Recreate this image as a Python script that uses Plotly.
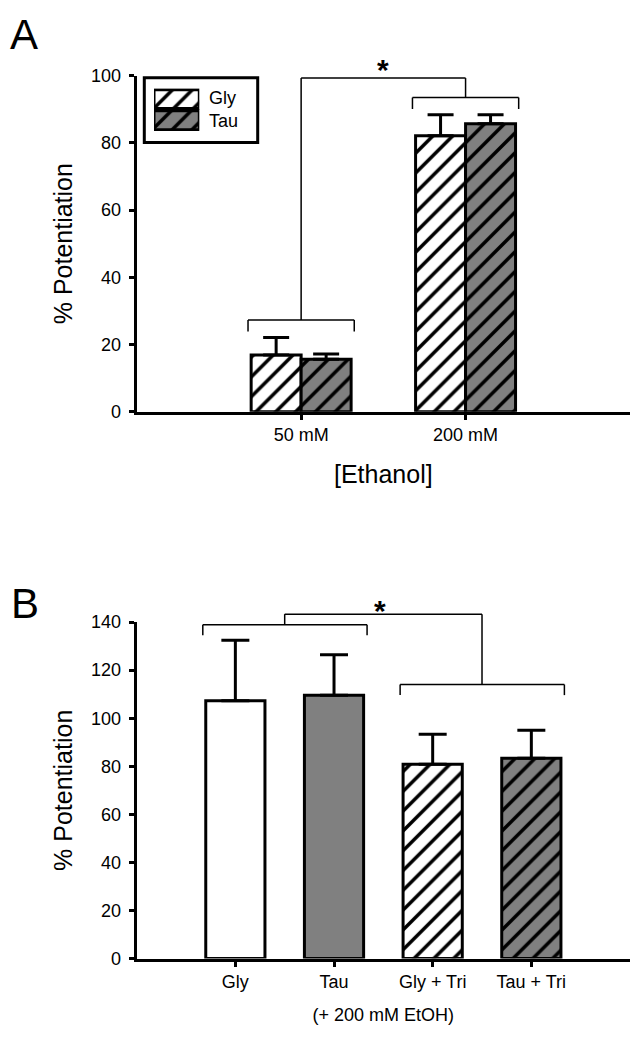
import plotly.graph_objects as go

# ---------------- data ----------------
conc_labels = ["50 mM", "200 mM"]
gly_a = [16.9, 82.1]
gly_a_err = [5.2, 6.3]
tau_a = [15.6, 85.7]
tau_a_err = [1.6, 2.7]

cond_labels = ["Gly", "Tau", "Gly + Tri", "Tau + Tri"]
pot_b = [107.3, 109.5, 80.8, 83.3]
pot_b_err = [25.1, 16.9, 12.5, 11.7]

legend_names = ["Gly", "Tau"]

# significance brackets (y levels, % potentiation)
a_group_y = [27.3, 93.5]
a_link_y = 99.3
b_group_y = [138.9, 114.0]
b_link_y = 143.3

# ---------------- styles ----------------
W, H = 641, 1046
FONT = "Liberation Sans, Arial, sans-serif"
GRAY = "#808080"
HATCH = 14
SOLID = 0.25

xa_range = [-1, 2]
ya_range = [0, 100]
xb_range = [-1, 4]
yb_range = [0, 140]


def px_x(p):
    return p / W


def px_y(p):
    return 1 - p / H


def dom(v, rng):
    return (v - rng[0]) / (rng[1] - rng[0])


x_dom = [px_x(136.7), px_x(630)]
ya_dom = [px_y(409.5), px_y(67)]
yb_dom = [px_y(967), px_y(624)]

fig = go.Figure()

idx_a = list(range(len(conc_labels)))
idx_b = list(range(len(cond_labels)))


def err(arr, w):
    return dict(type="data", symmetric=False, array=arr, arrayminus=[0] * len(arr),
                color="black", thickness=3, width=w)


def bar_marker(bg, hatched):
    m = dict(color=bg, line=dict(color="black", width=3))
    if hatched:
        m["pattern"] = dict(shape="/", fgcolor="black", bgcolor=bg, size=HATCH,
                            solidity=SOLID, fillmode="replace")
    return m


# Panel A
fig.add_trace(go.Bar(x=idx_a, y=gly_a, name="Gly", xaxis="x", yaxis="y",
                     marker=bar_marker("white", True), error_y=err(gly_a_err, 13),
                     showlegend=False))
fig.add_trace(go.Bar(x=idx_a, y=tau_a, name="Tau", xaxis="x", yaxis="y",
                     marker=bar_marker(GRAY, True), error_y=err(tau_a_err, 13),
                     showlegend=False))

# Panel B (one trace per condition, sharing one offset group)
b_colors = ["white", GRAY, "white", GRAY]
b_hatched = [False, False, True, True]
for i, lab in enumerate(cond_labels):
    fig.add_trace(go.Bar(x=[idx_b[i]], y=[pot_b[i]], name=lab, xaxis="x2", yaxis="y2",
                         width=0.6, offsetgroup="b",
                         marker=bar_marker(b_colors[i], b_hatched[i]),
                         error_y=err([pot_b_err[i]], 14), showlegend=False))

# Legend swatches (panel A)
for name, col in zip(legend_names, ["white", GRAY]):
    fig.add_trace(go.Bar(x=[1], y=[name], orientation="h", xaxis="x3", yaxis="y3",
                         width=0.89, offsetgroup="leg", marker=bar_marker(col, True),
                         cliponaxis=False, hoverinfo="skip", showlegend=False))

# ---------------- significance brackets ----------------
shapes = []
LW = 1.5


def seg(x0, y0, x1, y1, ax, xr, yr):
    shapes.append(dict(type="line", xref=f"{ax[0]} domain", yref=f"{ax[1]} domain",
                       x0=dom(x0, xr), x1=dom(x1, xr), y0=dom(y0, yr), y1=dom(y1, yr),
                       line=dict(color="black", width=LW)))


def bracket(xl, xr_, y, drop, ax, xr, yr):
    seg(xl, y - drop, xl, y, ax, xr, yr)
    seg(xl, y, xr_, y, ax, xr, yr)
    seg(xr_, y, xr_, y - drop, ax, xr, yr)


axA = ("x", "y")
axB = ("x2", "y2")
for i, yv in enumerate(a_group_y):
    bracket(idx_a[i] - 0.323, idx_a[i] + 0.323, yv, 3.4, axA, xa_range, ya_range)
seg(idx_a[0], a_group_y[0], idx_a[0], a_link_y, axA, xa_range, ya_range)
seg(idx_a[0], a_link_y, idx_a[1], a_link_y, axA, xa_range, ya_range)
seg(idx_a[1], a_link_y, idx_a[1], a_group_y[1], axA, xa_range, ya_range)

pairs = [(0, 1), (2, 3)]
centers = []
for (i0, i1), yv in zip(pairs, b_group_y):
    bracket(idx_b[i0] - 0.33, idx_b[i1] + 0.335, yv, 4.4, axB, xb_range, yb_range)
    centers.append((idx_b[i0] + idx_b[i1]) / 2)
seg(centers[0], b_group_y[0], centers[0], b_link_y, axB, xb_range, yb_range)
seg(centers[0], b_link_y, centers[1], b_link_y, axB, xb_range, yb_range)
seg(centers[1], b_link_y, centers[1], b_group_y[1], axB, xb_range, yb_range)

# legend frame
shapes.append(dict(type="rect", xref="paper", yref="paper",
                   x0=px_x(144.3), x1=px_x(257.7), y0=px_y(135), y1=px_y(69),
                   line=dict(color="black", width=3), fillcolor="rgba(0,0,0,0)"))

axis_common = dict(showline=True, linecolor="black", linewidth=3, ticks="outside",
                   ticklen=5, tickwidth=2.5, tickcolor="black", showgrid=False,
                   zeroline=False, tickfont=dict(family=FONT, size=18, color="black"))

fig.update_layout(
    width=W, height=H, margin=dict(l=0, r=0, t=0, b=0),
    paper_bgcolor="white", plot_bgcolor="white",
    barmode="group", bargap=0.392, bargroupgap=0,
    font=dict(family=FONT, color="black"),
    xaxis=dict(domain=x_dom, anchor="y", range=xa_range, tickvals=idx_a,
               ticktext=conc_labels,
               title=dict(text="[Ethanol]", font=dict(size=25), standoff=22),
               **axis_common),
    yaxis=dict(domain=ya_dom, anchor="x", range=ya_range, tickvals=list(range(0, 101, 20)),
               title=dict(text="% Potentiation", font=dict(size=25), standoff=12),
               ticklabelstandoff=4, **axis_common),
    xaxis2=dict(domain=x_dom, anchor="y2", range=xb_range, tickvals=idx_b,
                ticktext=cond_labels,
                title=dict(text="(+ 200 mM EtOH)", font=dict(size=18), standoff=18),
                **axis_common),
    yaxis2=dict(domain=yb_dom, anchor="x2", range=yb_range, tickvals=list(range(0, 141, 20)),
                title=dict(text="% Potentiation", font=dict(size=25), standoff=12),
                ticklabelstandoff=4, **axis_common),
    xaxis3=dict(domain=[px_x(154), px_x(199.3)], anchor="y3", range=[0, 1], visible=False),
    yaxis3=dict(domain=[px_y(123.3), px_y(80)], anchor="x3", autorange="reversed",
                type="category", visible=False),
    shapes=shapes,
    annotations=[
        dict(text="A", xref="paper", yref="paper", x=px_x(24), y=px_y(25),
             showarrow=False, font=dict(size=42), xanchor="center", yanchor="middle"),
        dict(text="B", xref="paper", yref="paper", x=px_x(24.5), y=px_y(605),
             showarrow=False, font=dict(size=42), xanchor="center", yanchor="middle"),
        dict(text="Gly", xref="paper", yref="paper", x=px_x(207), y=px_y(89.6),
             showarrow=False, font=dict(size=18), xanchor="left", yanchor="middle"),
        dict(text="Tau", xref="paper", yref="paper", x=px_x(207), y=px_y(113.6),
             showarrow=False, font=dict(size=18), xanchor="left", yanchor="middle"),
        dict(text="<b>*</b>", xref="x domain", yref="y domain",
             x=dom(0.5, xa_range), y=dom(101.9, ya_range),
             showarrow=False, font=dict(size=30), xanchor="center", yanchor="middle"),
        dict(text="<b>*</b>", xref="x2 domain", yref="y2 domain",
             x=dom(1.47, xb_range), y=dom(145.0, yb_range),
             showarrow=False, font=dict(size=30), xanchor="center", yanchor="middle"),
    ],
)

fig.write_html("out.html", config={"displayModeBar": False},
               post_script="document.body.style.margin='0';")
